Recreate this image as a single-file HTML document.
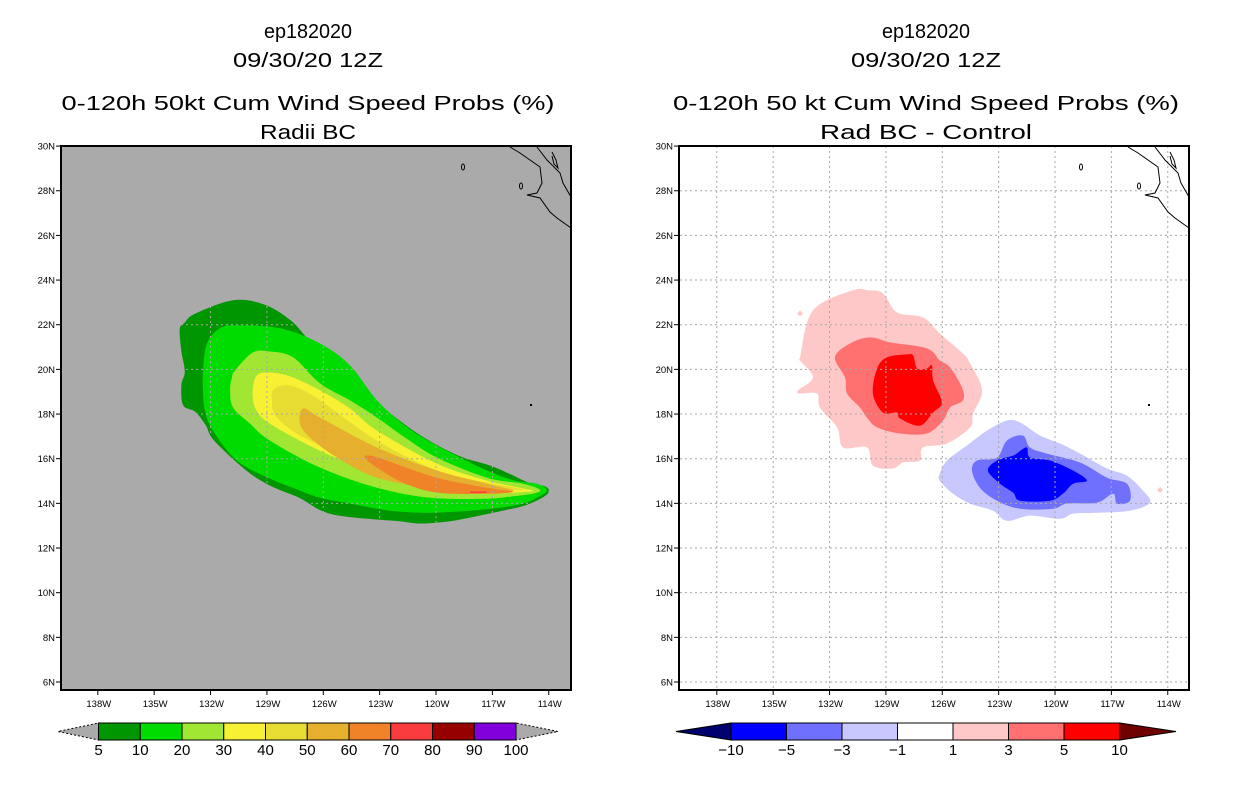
<!DOCTYPE html>
<html><head><meta charset="utf-8"><style>
html,body{margin:0;padding:0;background:#fff;}
svg{display:block;font-family:"Liberation Sans",sans-serif;}
</style></head><body>
<svg id="root" width="1236" height="800" viewBox="0 0 1236 800">
<g id="left"></g>
<g id="right"></g>
</svg>
<script>
// ---------- data ----------
const latTicks = [30,28,26,24,22,20,18,16,14,12,10,8,6];
const lonTicks = [138,135,132,129,126,123,120,117,114];
const probLevels = [5,10,20,30,40,50,60,70,80,90,100];
const probColors = ["#009600","#00dc00","#a0e632","#f8f032","#e6dc32","#e6af2d","#f08228","#fa3c3c","#960000","#8200dc"];
const diffLevels = [-10,-5,-3,-1,1,3,5,10];
const diffColors = ["#0000ff","#7070ff","#c8c8ff","#ffffff","#ffc8c8","#ff7070","#ff0000"];
// contours [lonW, latN]
const prob5 = [[133.64,21.8],[133.37,22.1],[132.81,22.5],[130.79,23.1],[129.13,22.9],[127.74,22.2],[126.73,21.3],[125.62,20.6],[124.61,19.9],[123.50,18.8],[121.93,17.7],[120.36,16.8],[118.70,16.1],[117.14,15.7],[116.03,15.3],[115.01,14.9],[114.18,14.75],[114.0,14.5],[114.46,14.2],[115.29,13.9],[116.31,13.7],[117.69,13.45],[119.26,13.2],[120.82,13.1],[121.93,13.2],[123.50,13.3],[125.16,13.45],[126.17,13.7],[127.28,14.25],[128.85,14.8],[130.14,15.5],[131.80,16.8],[132.26,17.5],[132.81,18.1],[133.46,18.4],[133.55,19.3],[133.37,19.9],[133.55,20.8]];
const prob10 = [[131.50,21.84],[130.59,21.97],[128.30,21.84],[126.17,21.16],[124.58,20.18],[123.14,18.61],[121.65,17.48],[120.16,16.68],[118.72,16.05],[117.28,15.47],[115.80,15.02],[114.63,14.88],[114.09,14.57],[114.73,14.21],[115.37,13.99],[116.59,13.81],[118.20,13.67],[120.32,13.58],[121.92,13.63],[123.14,13.76],[124.58,13.99],[126.17,14.25],[127.50,14.66],[128.84,15.11],[130.59,15.91],[131.87,17.26],[132.30,18.16],[132.40,19.06],[132.40,19.95],[132.19,21.16]];
const prob20 = [[129.74,20.76],[128.84,20.80],[127.61,20.54],[126.17,19.37],[124.58,18.61],[123.14,17.84],[121.65,16.95],[119.95,16.05],[117.28,15.15],[115.37,14.88],[114.47,14.61],[114.84,14.43],[116.07,14.30],[117.28,14.21],[120.32,14.25],[123.14,14.70],[126.17,15.60],[128.84,16.81],[129.90,17.57],[130.80,18.29],[130.96,19.06],[130.86,19.64],[130.70,19.95]];
const prob30 = [[129.37,19.82],[127.94,19.73],[126.17,19.06],[124.58,18.25],[123.14,17.26],[119.95,15.78],[117.28,15.02],[115.53,14.70],[114.84,14.57],[115.16,14.52],[117.28,14.43],[120.16,14.57],[123.14,15.33],[126.17,16.36],[128.84,17.57],[129.63,18.29],[129.74,19.19]];
const prob40 = [[128.15,19.28],[127.40,19.19],[126.17,18.61],[123.14,16.81],[119.95,15.47],[117.28,14.93],[115.37,14.61],[117.28,14.66],[120.16,14.93],[123.14,15.78],[126.71,16.81],[128.46,17.84],[128.73,18.61],[128.67,19.06]];
const prob50 = [[127.08,18.25],[126.17,17.84],[123.14,16.50],[119.95,15.47],[117.28,14.88],[115.90,14.57],[117.28,14.48],[120.16,14.66],[123.14,15.15],[125.27,16.05],[126.71,16.95],[127.24,17.57]];
const prob60 = [[123.52,16.14],[122.61,15.91],[119.95,15.15],[117.28,14.70],[115.90,14.52],[117.28,14.43],[119.95,14.48],[121.76,14.93],[123.14,15.60],[123.79,16.05]];
const prob70 = [[118.19,14.5],[117.29,14.5]];
const diffP1 = [[133.57,20.54],[132.88,22.64],[130.76,23.54],[129.95,23.54],[129.16,23.41],[128.41,22.55],[127.03,22.33],[126.13,21.61],[124.90,20.71],[124.52,20.27],[123.88,19.06],[124.36,18.02],[124.52,17.40],[125.75,16.68],[127.03,16.50],[127.19,15.92],[128.09,15.83],[128.63,15.56],[129.69,15.69],[130.01,16.50],[131.28,16.50],[131.60,17.40],[132.51,18.29],[132.67,18.92],[133.57,18.92],[133.68,19.06],[132.88,19.64],[133.57,20.40]];
const diffP3 = [[131.71,20.54],[130.91,21.16],[129.85,21.43],[128.78,21.21],[126.82,20.94],[126.13,20.40],[125.59,20.09],[124.95,19.19],[124.90,18.61],[125.59,18.29],[125.96,17.71],[126.82,17.13],[128.25,17.13],[129.47,17.40],[130.01,17.84],[130.38,18.29],[131.07,18.92],[131.18,19.64]];
const diffP5 = [[129.47,20.04],[128.94,20.54],[127.88,20.67],[127.56,20.63],[127.34,20.04],[126.82,20.04],[126.55,20.18],[126.49,19.50],[126.02,18.52],[126.49,18.07],[127.19,17.48],[128.25,17.80],[128.41,18.07],[129.16,18.07],[129.69,18.92]];
const diffM1 = [[126.13,15.33],[125.75,15.92],[124.69,16.59],[123.62,17.26],[122.56,17.71],[121.86,17.62],[120.80,17.04],[119.73,16.68],[118.67,16.23],[117.23,15.56],[116.17,15.24],[115.32,14.57],[114.95,14.03],[116.01,13.67],[117.77,13.58],[119.04,13.54],[119.73,13.31],[121.33,13.45],[122.56,13.22],[123.30,13.67],[124.52,13.99],[125.43,14.43],[126.13,15.02]];
const diffM3 = [[124.42,15.47],[124.15,15.92],[123.09,16.05],[122.56,16.81],[121.71,17.04],[121.33,16.50],[120.43,16.23],[118.67,15.83],[117.23,15.15],[116.17,14.88],[116.01,14.12],[116.70,13.99],[116.91,14.43],[117.77,14.03],[119.37,13.99],[120.11,13.76],[121.86,13.76],[123.09,14.12],[124.0,14.70]];
const diffM5 = [[123.57,15.47],[123.09,15.92],[122.23,16.14],[121.98,16.27],[121.50,16.50],[121.33,16.05],[120.27,15.92],[119.04,15.47],[118.30,15.02],[119.04,14.88],[119.58,14.43],[120.27,14.12],[121.86,14.12],[122.23,14.48],[122.93,14.88]];
const diffSmall = [[133.57,22.5],[114.41,14.6]];

// ---------- axes ----------
const NS="http://www.w3.org/2000/svg";
function X(lon,off){return off+97.8+(138-lon)*18.79;}
function Y(lat){return 682-(lat-6)*22.33;}
function mk(tag,attrs,parent){const e=document.createElementNS(NS,tag);for(const k in attrs)e.setAttribute(k,attrs[k]);parent.appendChild(e);return e;}
function smooth(pts){const n=pts.length;let d=`M${pts[0][0]},${pts[0][1]}`;
 for(let i=0;i<n;i++){const p0=pts[(i-1+n)%n],p1=pts[i],p2=pts[(i+1)%n],p3=pts[(i+2)%n];
  const c1=[p1[0]+(p2[0]-p0[0])/6,p1[1]+(p2[1]-p0[1])/6],c2=[p2[0]-(p3[0]-p1[0])/6,p2[1]-(p3[1]-p1[1])/6];
  d+=`C${c1[0].toFixed(1)},${c1[1].toFixed(1)} ${c2[0].toFixed(1)},${c2[1].toFixed(1)} ${p2[0].toFixed(1)},${p2[1].toFixed(1)}`;}
 return d+"Z";}
function contour(g,data,off,color,name){
 const p=mk('path',{d:smooth(data.map(q=>[X(q[0],off),Y(q[1])])),fill:color},g);
 
 }
function text(g,x,y,s,size,anchor,name,len){
 const t=mk('text',{x:x,y:y,'font-size':size,'text-anchor':anchor||'middle',fill:'#000'},g);
 if(len){t.setAttribute('textLength',len);t.setAttribute('lengthAdjust','spacingAndGlyphs');}
 t.textContent=s;
 
 
 return t;}
function coast(g,off){
 const segs=[[[510,147],[520,153],[540,167],[542,183],[537,193],[527,195],[540,198],[550,212],[557,218],[571,228]],
  [[537,147],[547,160],[560,173],[563,183],[571,197]],
  [[552,152],[556,160],[558,168],[554,164],[552,156]]];
 segs.forEach(s=>{const c=mk('polyline',{points:s.map(p=>(p[0]+off)+','+p[1]).join(' '),fill:'none',stroke:'#000','stroke-width':1},g);
  
  });
 [[463,167,1.5,3],[521,186,1.5,3]].forEach(s=>{const e=mk('ellipse',{cx:s[0]+off,cy:s[1],rx:s[2],ry:s[3],fill:'none',stroke:'#000','stroke-width':1},g);
  
  });
 const r=mk('rect',{x:530+off,y:404,width:2,height:2,fill:'#000'},g);
 
 }
function grid(g,off){
 latTicks.forEach(l=>{const ln=mk('line',{x1:61+off,x2:571+off,y1:Y(l),y2:Y(l),stroke:'#a8a8a8','stroke-dasharray':'2,3','stroke-width':1},g);
  
  });
 lonTicks.forEach(l=>{const ln=mk('line',{x1:X(l,off),x2:X(l,off),y1:146,y2:690,stroke:'#a8a8a8','stroke-dasharray':'2,3','stroke-width':1},g);
  
  });}
function axes(g,off){
 mk('rect',{x:61+off,y:146,width:510,height:544,fill:'none',stroke:'#000','stroke-width':2},g);
 latTicks.forEach(l=>{mk('line',{x1:56+off,x2:61+off,y1:Y(l),y2:Y(l),stroke:'#000'},g);
  text(g,55+off,Y(l)+3.5,l+'N',9.5,'end','lat-tick-label');});
 lonTicks.forEach(l=>{mk('line',{x1:X(l,off),x2:X(l,off),y1:690,y2:695,stroke:'#000'},g);
  text(g,X(l,off)+1,707,l+'W',9.5,'middle','lon-tick-label');});}
function titles(g,cx,lines){
 text(g,cx,38,'ep182020',20,'middle','storm-id-title',88);
 text(g,cx,67,'09/30/20 12Z',20,'middle','date-title',150);
 text(g,cx,110,lines[0],20,'middle','main-title',lines[2]);
 text(g,cx,139,lines[1],20,'middle','subtitle',lines[3]);}

// ---------- left panel ----------
const L=document.getElementById('left');
mk('rect',{x:61,y:146,width:510,height:544,fill:'#aaaaaa'},L);
[prob5,prob10,prob20,prob30,prob40,prob50,prob60].forEach((c,i)=>contour(L,c,0,probColors[i],'prob-contour-'+probLevels[i]));
const red=mk('line',{x1:X(prob70[0][0],0),x2:X(prob70[1][0],0),y1:Y(prob70[0][1]),y2:Y(prob70[1][1]),stroke:'#fa3c3c','stroke-width':1.5},L);


grid(L,0);coast(L,0);axes(L,0);
titles(L,308,['0-120h 50kt Cum Wind Speed Probs (%)','Radii BC',493,96]);
(function(){const x0=98.5,w=41.75,y0=723,h=17;
 const t1=mk('polygon',{points:`${x0},${y0} ${x0},${y0+h} 58,${y0+h/2}`,fill:'#aaaaaa',stroke:'#000','stroke-dasharray':'2,2'},L);
 
 const e=x0+w*10;
 const t2=mk('polygon',{points:`${e},${y0} ${e},${y0+h} 558,${y0+h/2}`,fill:'#aaaaaa',stroke:'#000','stroke-dasharray':'2,2'},L);
 
 probColors.forEach((c,i)=>{const r=mk('rect',{x:x0+i*w,y:y0,width:w,height:h,fill:c,stroke:'#000','stroke-width':1},L);
  
  });
 probLevels.forEach((v,i)=>text(L,x0+i*w,755,String(v),15,'middle','colorbar-label'));})();

// ---------- right panel ----------
const R=document.getElementById('right');const O=619;
mk('rect',{x:61+O-1,y:146,width:510,height:544,fill:'#fff'},R);
[[diffP1,4],[diffP3,5],[diffP5,6],[diffM1,2],[diffM3,1],[diffM5,0]].forEach(a=>contour(R,a[0],O,diffColors[a[1]],'diff-contour-'+diffLevels[a[1]]));
diffSmall.forEach(p=>{const d=mk('polygon',{points:`${X(p[0],O)-3},${Y(p[1])} ${X(p[0],O)},${Y(p[1])-3} ${X(p[0],O)+3},${Y(p[1])} ${X(p[0],O)},${Y(p[1])+3}`,fill:'#ffc8c8'},R);
 
 });
grid(R,O);coast(R,O-1);
(function(){const g=R;const off=O-1;
 mk('rect',{x:61+off,y:146,width:510,height:544,fill:'none',stroke:'#000','stroke-width':2},g);
 latTicks.forEach(l=>{mk('line',{x1:56+off,x2:61+off,y1:Y(l),y2:Y(l),stroke:'#000'},g);
  text(g,55+off,Y(l)+3.5,l+'N',9.5,'end','lat-tick-label');});
 lonTicks.forEach(l=>{mk('line',{x1:X(l,O),x2:X(l,O),y1:690,y2:695,stroke:'#000'},g);
  text(g,X(l,O)+1,707,l+'W',9.5,'middle','lon-tick-label');});})();
titles(R,926,['0-120h 50 kt Cum Wind Speed Probs (%)','Rad BC - Control',506,212]);
(function(){const x0=731,w=55.5,y0=723,h=17;
 const t1=mk('polygon',{points:`${x0},${y0} ${x0},${y0+h} 676,${y0+h/2}`,fill:'#00006e',stroke:'#000'},R);
 
 const e=x0+w*7;
 const t2=mk('polygon',{points:`${e},${y0} ${e},${y0+h} 1176,${y0+h/2}`,fill:'#6e0000',stroke:'#000'},R);
 
 diffColors.forEach((c,i)=>{const r=mk('rect',{x:x0+i*w,y:y0,width:w,height:h,fill:c,stroke:'#000','stroke-width':1},R);
  
  });
 diffLevels.forEach((v,i)=>text(R,x0+i*w,755,v<0?'\u2212'+Math.abs(v):String(v),15,'middle','colorbar-label'));})();
</script>
</body></html>
